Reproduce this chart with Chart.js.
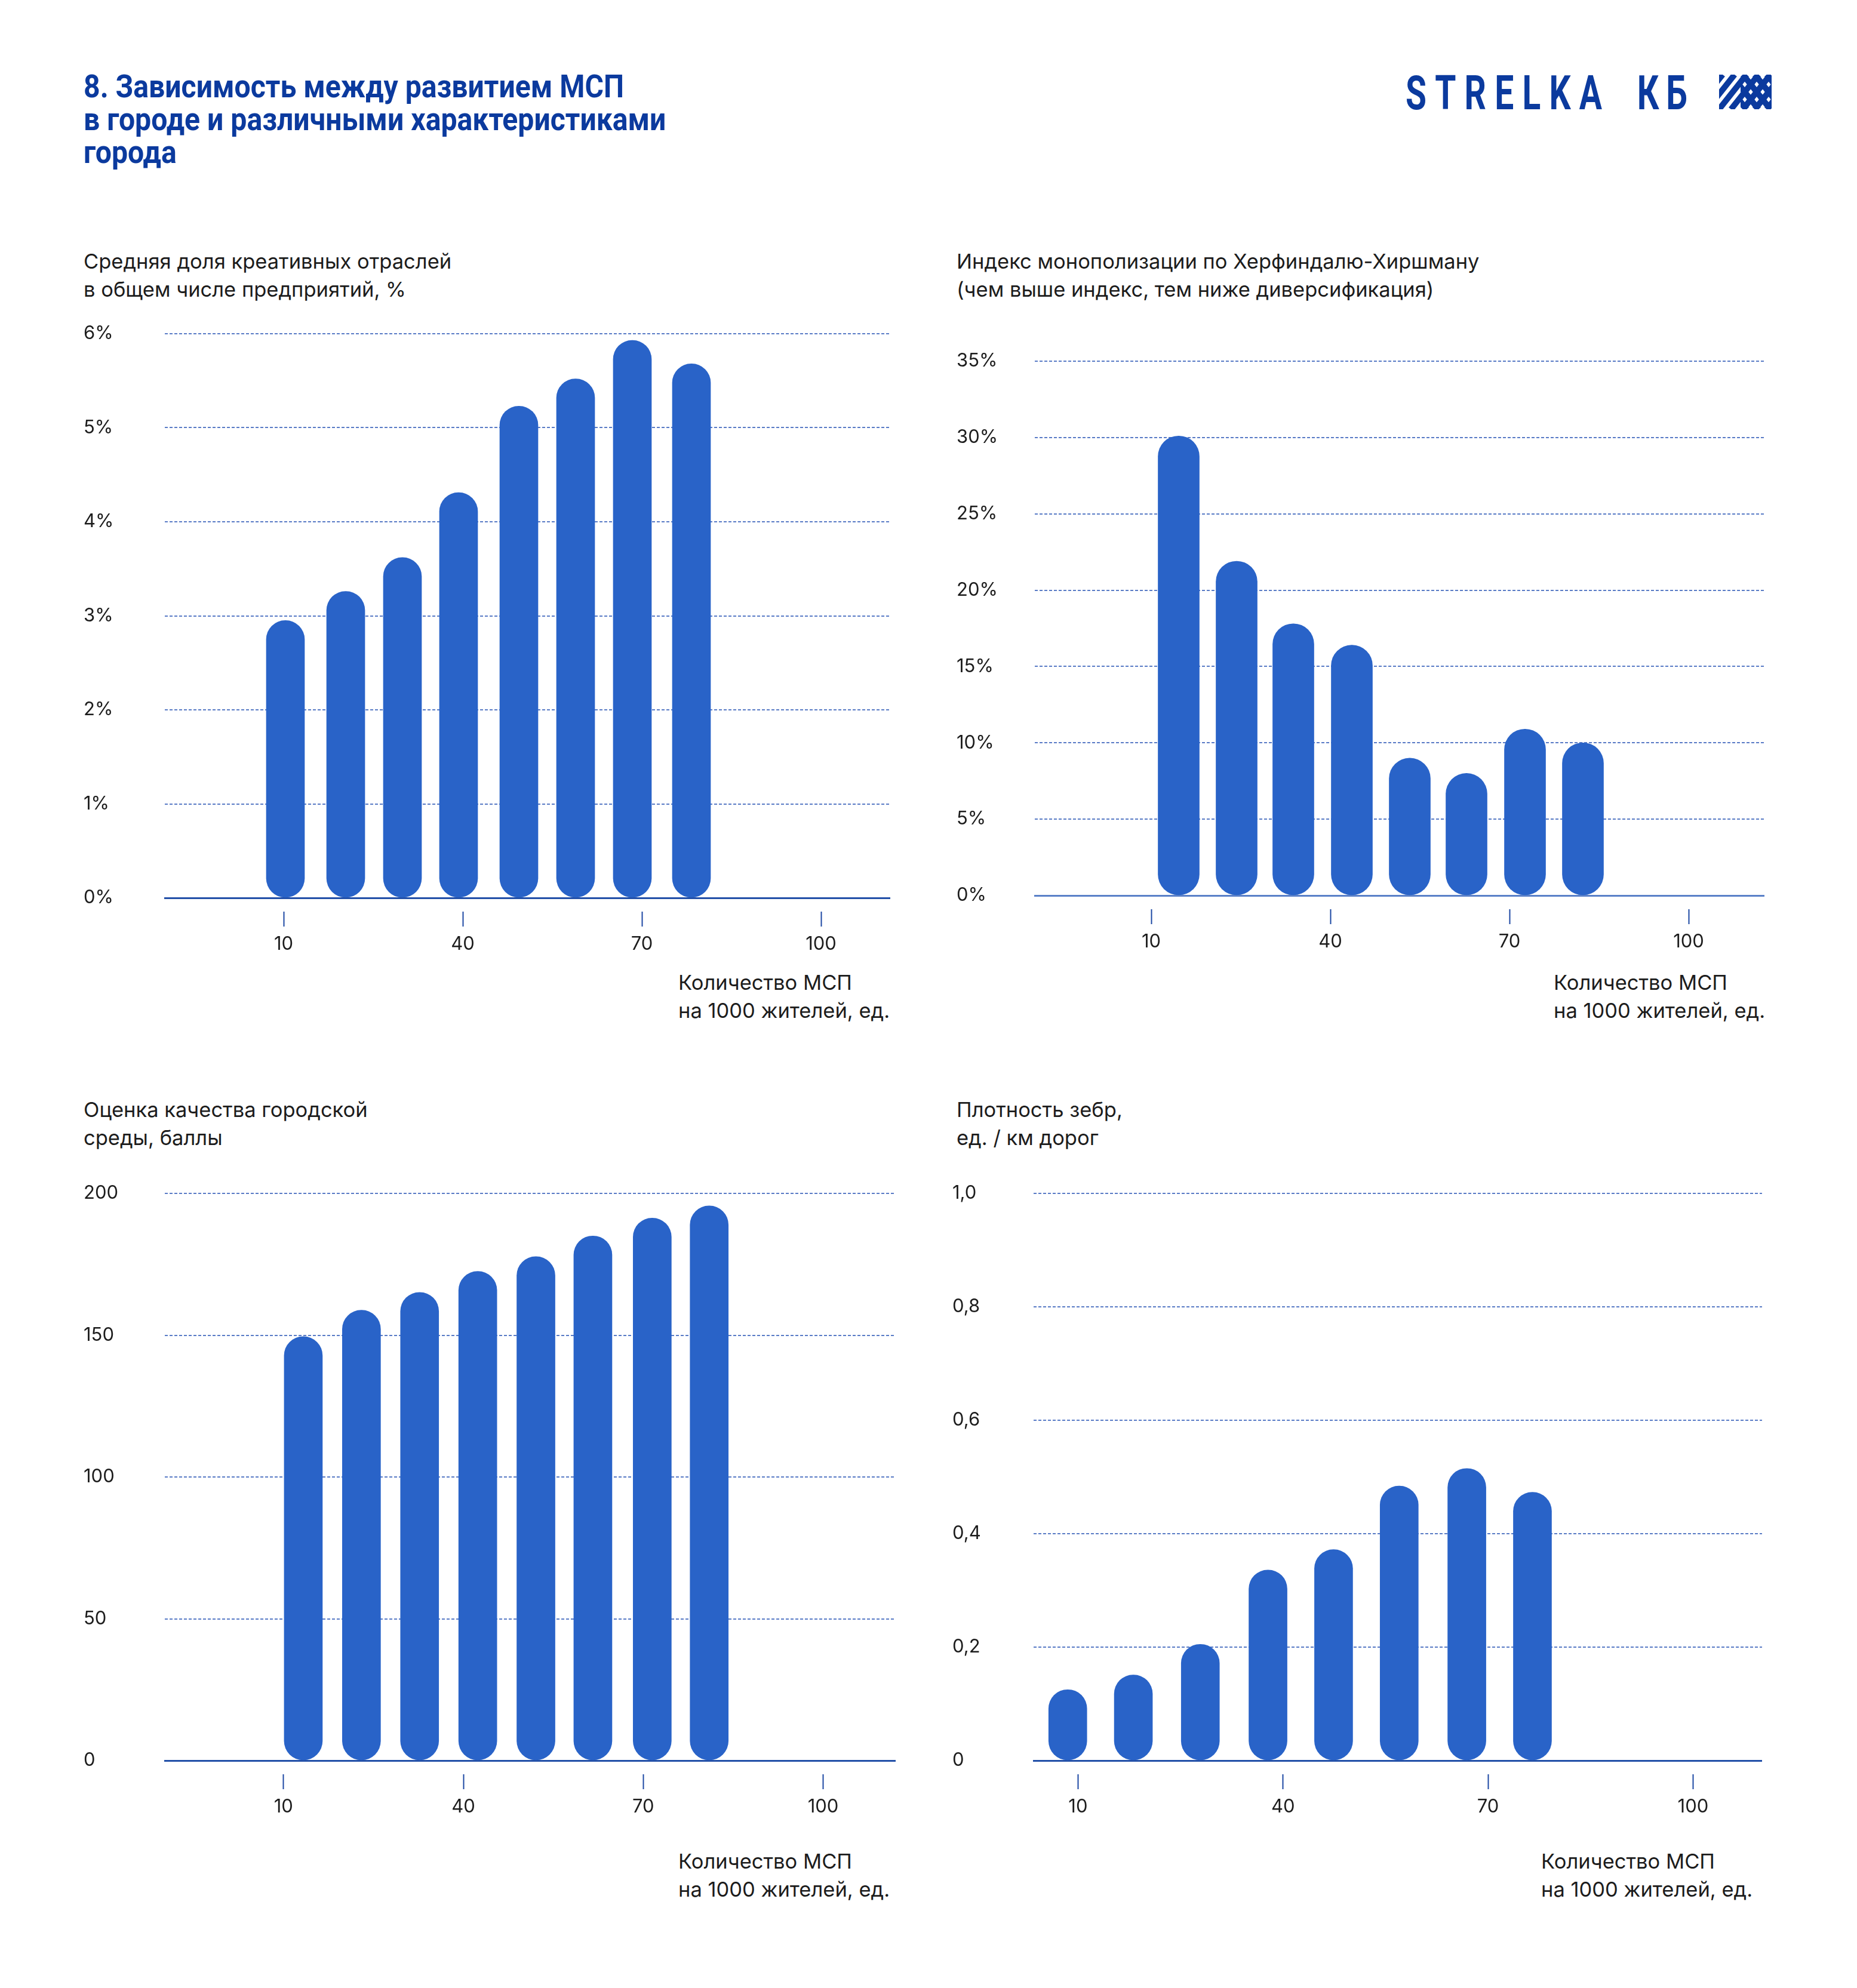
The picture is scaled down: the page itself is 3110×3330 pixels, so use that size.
<!DOCTYPE html>
<html lang="ru">
<head>
<meta charset="utf-8">
<title>Зависимость между развитием МСП</title>
<script src="https://cdn.jsdelivr.net/npm/chart.js@4.4.1/dist/chart.umd.min.js"></script>
<style>
  html, body { margin: 0; padding: 0; background: #fff; }
  body { position: relative; width: 3110px; height: 3330px; overflow: hidden;
         font-family: Inter, "Noto Sans", sans-serif; color: #1c1c1c; }
  .abs { position: absolute; margin: 0; }
  h1.abs { left: 140px; top: 117px; font: 700 54px/55px Roboto, sans-serif; color: #0b3a9e;
           transform-origin: 0 0; white-space: nowrap; }
  .sub, .xt { font-size: 34.5px; line-height: 47px; white-space: nowrap; }
  canvas { position: absolute; }
</style>
</head>
<body>

<h1 class="abs" id="title"><span id="t1">8. Зависимость между развитием МСП</span><br>в городе и различными характеристиками<br>города</h1>

<svg class="abs" style="left:2350px; top:120px" width="640" height="70">
  <g transform="scale(0.72,1)">
    <text x="5.5" y="63" font-family="Roboto, sans-serif" font-weight="700" font-size="79" fill="#0b3a9e"
          textLength="457" lengthAdjust="spacing">STRELKA</text>
    <text x="544" y="63" font-family="Roboto, sans-serif" font-weight="700" font-size="79" fill="#0b3a9e"
          textLength="117" lengthAdjust="spacing">КБ</text>
  </g>
  <g id="logoMark" transform="translate(529,5)"></g>
</svg>

<div class="abs sub" style="left:140px; top:414px">Средняя доля креативных отраслей<br>в общем числе предприятий, %</div>
<div class="abs sub" style="left:1602px; top:414px">Индекс монополизации по Херфиндалю-Хиршману<br>(чем выше индекс, тем ниже диверсификация)</div>
<div class="abs sub" style="left:140px; top:1835px">Оценка качества городской<br>среды, баллы</div>
<div class="abs sub" style="left:1602px; top:1835px">Плотность зебр,<br>ед. / км дорог</div>

<div class="abs xt" style="left:1136px; top:1622px">Количество МСП<br>на 1000 жителей, ед.</div>
<div class="abs xt" style="left:2602px; top:1622px">Количество МСП<br>на 1000 жителей, ед.</div>
<div class="abs xt" style="left:1136px; top:3094px">Количество МСП<br>на 1000 жителей, ед.</div>
<div class="abs xt" style="left:2581px; top:3094px">Количество МСП<br>на 1000 жителей, ед.</div>

<canvas id="c1" width="1351" height="1104" style="left:140px; top:520px"></canvas>
<canvas id="c2" width="1353" height="1060" style="left:1602px; top:560px"></canvas>
<canvas id="c3" width="1360" height="1119" style="left:140px; top:1950px"></canvas>
<canvas id="c4" width="1356" height="1119" style="left:1595px; top:1950px"></canvas>

<script>
// x-axis ticks, shared by all four panels
const xTickValues = [10, 40, 70, 100];

// 1. creative industries share, %
const creativeX = [10.3, 20.4, 29.9, 39.3, 49.4, 58.9, 68.4, 78.3];
const creativeShare = [2.95, 3.26, 3.62, 4.31, 5.23, 5.52, 5.93, 5.68];
const creativeTicks = [0, 1, 2, 3, 4, 5, 6];
const creativeTickLabels = ["0%", "1%", "2%", "3%", "4%", "5%", "6%"];

// 2. Herfindahl-Hirschman index, %
const hhiX = [14.6, 24.3, 33.8, 43.6, 53.3, 62.8, 72.6, 82.3];
const hhiIndex = [30.1, 21.9, 17.8, 16.4, 9.0, 8.0, 10.9, 10.0];
const hhiTicks = [0, 5, 10, 15, 20, 25, 30, 35];
const hhiTickLabels = ["0%", "5%", "10%", "15%", "20%", "25%", "30%", "35%"];

// 3. urban environment score
const envX = [13.3, 23.0, 32.7, 42.4, 52.1, 61.6, 71.5, 81.0];
const envScore = [149.5, 158.8, 165.1, 172.5, 177.7, 185.0, 191.3, 195.6];
const envTicks = [0, 50, 100, 150, 200];
const envTickLabels = ["0", "50", "100", "150", "200"];

// 4. zebra crossings per km of roads
const zebraX = [8.5, 18.1, 27.9, 37.8, 47.4, 57.0, 66.9, 76.5];
const zebraDensity = [0.125, 0.151, 0.205, 0.336, 0.372, 0.484, 0.515, 0.473];
const zebraTicks = [0, 0.2, 0.4, 0.6, 0.8, 1.0];
const zebraTickLabels = ["0", "0,2", "0,4", "0,6", "0,8", "1,0"];

Chart.defaults.font.family = "Inter, 'Noto Sans', sans-serif";
Chart.defaults.color = "#1c1c1c";

// squeeze the bold title to the condensed width of the original
const title = document.getElementById("title");
const w1 = document.getElementById("t1").getBoundingClientRect().width;
title.style.transform = "scaleX(" + (905 / w1) + ")";

function makeChart(id, opts) {
  const points = opts.xs.map((x, i) => ({ x: x, y: opts.ys[i] }));
  new Chart(document.getElementById(id), {
    type: "bar",
    data: {
      datasets: [{
        data: points,
        backgroundColor: "#2963c8",
        borderWidth: 0,
        borderRadius: 60,
        borderSkipped: false,
        barThickness: opts.barWidth
      }]
    },
    options: {
      responsive: false,
      animation: false,
      devicePixelRatio: 1,
      layout: { padding: { top: opts.padTop, left: 0, right: 0, bottom: 0 } },
      plugins: { legend: { display: false }, tooltip: { enabled: false } },
      scales: {
        x: {
          type: "linear",
          offset: false,
          min: opts.xMin,
          max: opts.xMax,
          afterBuildTicks: s => { s.ticks = xTickValues.map(v => ({ value: v })); },
          afterFit: s => { s.height = 120; },
          border: { display: true, color: opts.axisColor, width: 3 },
          grid: {
            offset: false,
            drawOnChartArea: false,
            drawTicks: true,
            tickLength: 48,
            tickWidth: 2,
            tickColor: "#1d48a3",
            tickBorderDash: [0, 21, 27, 100]
          },
          ticks: { padding: 11, font: { size: 31 }, maxRotation: 0, color: "#1c1c1c" }
        },
        y: {
          min: 0,
          max: opts.yTicks[opts.yTicks.length - 1],
          afterBuildTicks: s => { s.ticks = opts.yTicks.map(v => ({ value: v })); },
          afterFit: s => { s.width = opts.yWidth; },
          border: { display: false, dash: [5, 3] },
          grid: {
            drawTicks: false,
            color: "#5a7cc6",
            lineWidth: 2
          },
          ticks: {
            crossAlign: "far",
            font: { size: 31 },
            color: "#1c1c1c",
            callback: v => opts.yLabels[opts.yTicks.indexOf(v)]
          }
        }
      }
    }
  });
}

makeChart("c1", { xs: creativeX, ys: creativeShare, yTicks: creativeTicks, yLabels: creativeTickLabels,
  xMin: -9.9, xMax: 111.6, barWidth: 64, padTop: 39, yWidth: 136, axisColor: "#2350a8" });
makeChart("c2", { xs: hhiX, ys: hhiIndex, yTicks: hhiTicks, yLabels: hhiTickLabels,
  xMin: -9.5, xMax: 112.7, barWidth: 69, padTop: 45, yWidth: 131, axisColor: "#5a80c8" });
makeChart("c3", { xs: envX, ys: envScore, yTicks: envTicks, yLabels: envTickLabels,
  xMin: -9.8, xMax: 112.1, barWidth: 64, padTop: 49, yWidth: 136, axisColor: "#2350a8" });
makeChart("c4", { xs: zebraX, ys: zebraDensity, yTicks: zebraTicks, yLabels: zebraTickLabels,
  xMin: 3.5, xMax: 110.1, barWidth: 64, padTop: 49, yWidth: 136, axisColor: "#2350a8" });

// logo mark: diagonal stripes, crossed on the right part
(function () {
  const ns = "http://www.w3.org/2000/svg";
  const g = document.getElementById("logoMark");
  const w = 88, h = 58, period = 20, dx = 46;
  g.innerHTML =
    '<defs><clipPath id="lmAll"><rect width="' + w + '" height="' + h + '"/></clipPath>' +
    '<clipPath id="lmRight"><rect x="36" width="' + (w - 36) + '" height="' + h + '"/></clipPath></defs>';
  const all = document.createElementNS(ns, "g");
  all.setAttribute("clip-path", "url(#lmAll)");
  const right = document.createElementNS(ns, "g");
  right.setAttribute("clip-path", "url(#lmRight)");
  for (let x0 = -80; x0 < 140; x0 += period) {
    const a = document.createElementNS(ns, "line");
    a.setAttribute("x1", x0); a.setAttribute("y1", h);
    a.setAttribute("x2", x0 + dx); a.setAttribute("y2", 0);
    const b = document.createElementNS(ns, "line");
    b.setAttribute("x1", x0); b.setAttribute("y1", 0);
    b.setAttribute("x2", x0 + dx); b.setAttribute("y2", h);
    [a, b].forEach(l => { l.setAttribute("stroke", "#0b3a9e"); l.setAttribute("stroke-width", "10"); });
    all.appendChild(a);
    right.appendChild(b);
  }
  g.appendChild(all);
  g.appendChild(right);
})();
</script>
</body>
</html>
